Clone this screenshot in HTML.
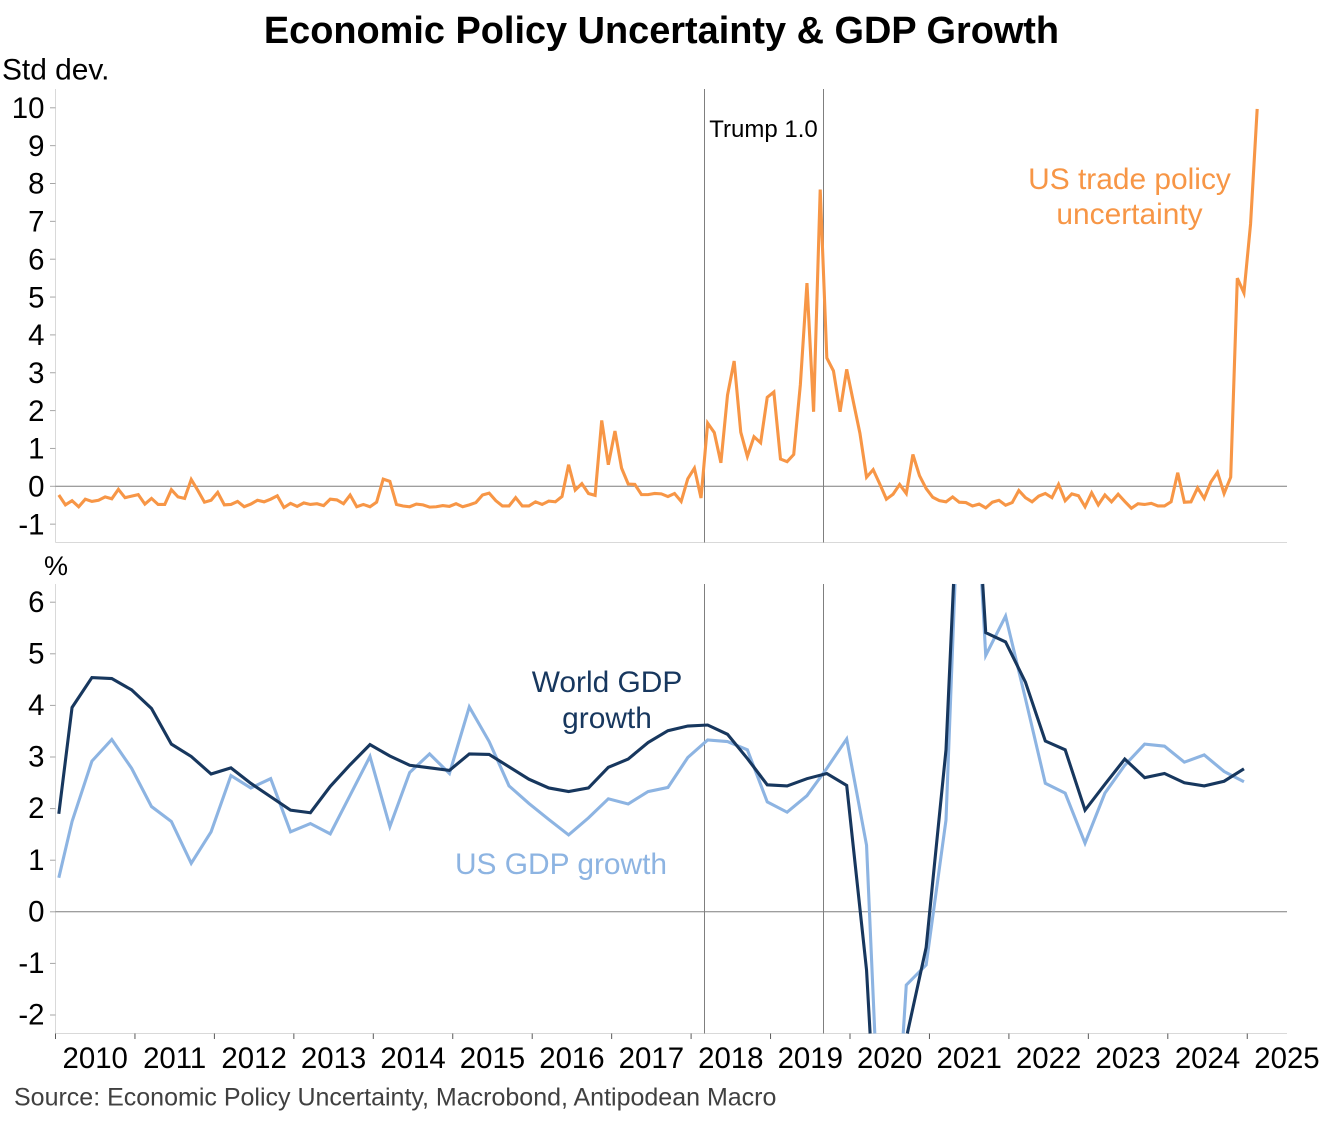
<!DOCTYPE html>
<html lang="en">
<head>
<meta charset="utf-8">
<title>Economic Policy Uncertainty &amp; GDP Growth</title>
<style>
html,body{margin:0;padding:0;background:#fff;}
body{width:1323px;height:1122px;overflow:hidden;}
svg{display:block;font-family:"Liberation Sans",Arial,sans-serif;}
</style>
</head>
<body>
<svg id="chart" xmlns="http://www.w3.org/2000/svg" width="1323" height="1122" viewBox="0 0 1323 1122">
  <text x="661.5" y="43" text-anchor="middle" font-size="37.9" font-weight="bold" fill="#000">Economic Policy Uncertainty &amp; GDP Growth</text>
  <text x="2" y="79.5" font-size="29.9" fill="#000">Std dev.</text>
  <text x="44" y="575" font-size="27" fill="#000">%</text>
  <g id="top-panel"></g>
  <g id="bottom-panel"></g>
  <text x="763.5" y="137" text-anchor="middle" font-size="24" fill="#000">Trump 1.0</text>
  <text text-anchor="middle" font-size="29.9" fill="#F79646"><tspan x="1129.5" y="189">US trade policy</tspan><tspan x="1129.5" y="224">uncertainty</tspan></text>
  <text text-anchor="middle" font-size="29.9" fill="#17375E"><tspan x="607" y="692">World GDP</tspan><tspan x="607" y="728">growth</tspan></text>
  <text x="561" y="874" text-anchor="middle" font-size="29.9" fill="#8DB4E2">US GDP growth</text>
  <text x="14" y="1105.5" font-size="25" fill="#404040">Source: Economic Policy Uncertainty, Macrobond, Antipodean Macro</text>
</svg>
<script>
// Monthly US trade policy uncertainty, standard deviations, starting Jan 2010
const tradeUncertainty = [
 -0.23,-0.49,-0.38,-0.54,-0.34,-0.40,-0.37,-0.28,-0.33,-0.08,-0.30,-0.26,
 -0.22,-0.47,-0.32,-0.48,-0.48,-0.09,-0.28,-0.32,0.18,-0.11,-0.42,-0.37,
 -0.16,-0.49,-0.48,-0.40,-0.54,-0.47,-0.37,-0.41,-0.34,-0.25,-0.56,-0.45,
 -0.53,-0.44,-0.48,-0.46,-0.51,-0.34,-0.36,-0.46,-0.23,-0.54,-0.48,-0.54,
 -0.42,0.19,0.13,-0.48,-0.52,-0.54,-0.47,-0.49,-0.55,-0.54,-0.51,-0.53,
 -0.46,-0.54,-0.49,-0.43,-0.23,-0.18,-0.38,-0.52,-0.52,-0.30,-0.52,-0.52,
 -0.41,-0.48,-0.39,-0.41,-0.27,0.57,-0.10,0.07,-0.19,-0.24,1.74,0.57,
 1.46,0.48,0.06,0.05,-0.22,-0.22,-0.19,-0.20,-0.27,-0.19,-0.40,0.20,
 0.48,-0.31,1.67,1.42,0.62,2.41,3.31,1.43,0.79,1.31,1.15,2.35,
 2.49,0.72,0.65,0.84,2.68,5.37,1.97,7.84,3.39,3.05,1.97,3.09,
 2.24,1.40,0.24,0.44,0.06,-0.34,-0.21,0.05,-0.19,0.84,0.28,-0.06,
 -0.29,-0.38,-0.41,-0.28,-0.42,-0.43,-0.52,-0.47,-0.57,-0.42,-0.37,-0.50,
 -0.43,-0.11,-0.30,-0.41,-0.26,-0.19,-0.30,0.05,-0.38,-0.20,-0.25,-0.54,
 -0.17,-0.49,-0.23,-0.41,-0.21,-0.40,-0.58,-0.46,-0.48,-0.45,-0.52,-0.52,
 -0.41,0.36,-0.42,-0.41,-0.04,-0.32,0.11,0.37,-0.19,0.24,5.50,5.11,
 6.93,9.97
];
// Month offsets from Jan 2010 for the GDP observations
const gdpMonths = [
 0,2,5,8,11,14,17,20,23,26,29,32,35,38,41,44,47,50,53,56,59,
 62,65,68,71,74,77,80,83,86,89,92,95,98,101,104,107,110,113,116,119,
 122,125,128,131,134,137,140,143,146,149,152,155,158,161,164,167,170,173,176,179
];
const usGdpGrowth = [
 0.66,1.75,2.92,3.34,2.78,2.04,1.75,0.94,1.55,2.64,2.40,2.58,1.55,1.71,1.51,2.26,3.01,1.65,2.70,3.06,2.68,
 3.97,3.30,2.44,2.10,1.79,1.49,1.82,2.19,2.09,2.33,2.41,2.99,3.33,3.30,3.14,2.13,1.93,2.25,2.78,3.35,
 1.29,-7.5,-1.42,-1.03,1.78,11.9,4.97,5.73,4.13,2.49,2.30,1.33,2.30,2.84,3.25,3.21,2.90,3.04,2.72,2.52
];
const worldGdpGrowth = [
 1.90,3.96,4.54,4.52,4.30,3.94,3.25,3.01,2.67,2.79,2.49,2.23,1.97,1.92,2.43,2.85,3.24,3.02,2.84,2.79,2.74,
 3.06,3.05,2.81,2.57,2.40,2.33,2.40,2.80,2.96,3.28,3.51,3.60,3.62,3.44,2.97,2.46,2.44,2.58,2.68,2.45,
 -1.13,-8.0,-2.45,-0.69,3.14,11.6,5.41,5.23,4.45,3.31,3.14,1.97,2.47,2.96,2.60,2.68,2.50,2.44,2.53,2.77
];
const yearLabels = ["2010","2011","2012","2013","2014","2015","2016","2017","2018","2019","2020","2021","2022","2023","2024","2025"];
const topTicks = [-1,0,1,2,3,4,5,6,7,8,9,10];
const bottomTicks = [-2,-1,0,1,2,3,4,5,6];
// Trump first-term markers, as month offsets from Jan 2010
const termMarkers = [98,116];

const SVGNS = "http://www.w3.org/2000/svg";
const LEFT = 55.5, RIGHT = 1287;
const TOP_ZERO = 486.3, TOP_UNIT = 37.85, TOP_Y0 = 89, TOP_Y1 = 542.5;
const BOT_ZERO = 911.8, BOT_UNIT = 51.6, BOT_Y0 = 584, BOT_Y1 = 1033.5;
const MONTH_W = 79.45 / 12;
const TICK_FONT = 29.4;

function xEdge(m){ return LEFT + m * MONTH_W; }
function xMid(m){ return LEFT + (m + 0.5) * MONTH_W; }
function yTop(v){ return TOP_ZERO - v * TOP_UNIT; }
function yBottom(v){ return BOT_ZERO - v * BOT_UNIT; }

function make(tag, attrs, parent){
  const el = document.createElementNS(SVGNS, tag);
  for (const k in attrs) el.setAttribute(k, attrs[k]);
  parent.appendChild(el);
  return el;
}
// Build a path, cutting each segment at the panel's vertical limits
function clippedPath(xs, ys, yMin, yMax){
  let d = "", penDown = false;
  for (let i = 0; i < xs.length - 1; i++){
    const x0 = xs[i], y0 = ys[i], x1 = xs[i+1], y1 = ys[i+1];
    let t0 = 0, t1 = 1;
    const dy = y1 - y0;
    if (dy === 0){
      if (y0 < yMin || y0 > yMax){ penDown = false; continue; }
    } else {
      const a = (yMin - y0) / dy, b = (yMax - y0) / dy;
      t0 = Math.max(0, Math.min(a, b));
      t1 = Math.min(1, Math.max(a, b));
      if (t0 > t1){ penDown = false; continue; }
    }
    const sx = x0 + t0 * (x1 - x0), sy = y0 + t0 * dy;
    const ex = x0 + t1 * (x1 - x0), ey = y0 + t1 * dy;
    if (!penDown || t0 > 0) d += "M" + sx.toFixed(2) + " " + sy.toFixed(2) + " ";
    d += "L" + ex.toFixed(2) + " " + ey.toFixed(2) + " ";
    penDown = t1 === 1;
  }
  return d.trim();
}
function crisp(x){ return Math.floor(x) + 0.5; }

const topPanel = document.getElementById("top-panel");
const bottomPanel = document.getElementById("bottom-panel");

// ---- Top panel axes
const topYAxis = make("line",{x1:LEFT,x2:LEFT,y1:TOP_Y0,y2:TOP_Y1,stroke:"#d9d9d9","stroke-width":1},topPanel);


const topXAxis = make("line",{x1:LEFT,x2:RIGHT,y1:TOP_Y1,y2:TOP_Y1,stroke:"#d9d9d9","stroke-width":1},topPanel);


topTicks.forEach(function(v){
  const t = make("line",{x1:50,x2:LEFT,y1:yTop(v),y2:yTop(v),stroke:"#a6a6a6","stroke-width":1},topPanel);
  
  
  const l = make("text",{x:44.5,y:yTop(v)+10.2,"text-anchor":"end","font-size":TICK_FONT,fill:"#000"},topPanel);
  
  
  l.textContent = String(v);
});
const topZero = make("line",{x1:LEFT,x2:RIGHT,y1:yTop(0),y2:yTop(0),stroke:"#7f7f7f","stroke-width":1},topPanel);


termMarkers.forEach(function(m){
  const x = crisp(xEdge(m));
  const line = make("line",{x1:x,x2:x,y1:TOP_Y0,y2:TOP_Y1,stroke:"#7f7f7f","stroke-width":1},topPanel);
  
  
});
const tradeLine = make("path",{
  d:clippedPath(tradeUncertainty.map(function(_,i){return xMid(i);}),tradeUncertainty.map(yTop),TOP_Y0,TOP_Y1),
  fill:"none",stroke:"#F79646","stroke-width":3.1
},topPanel);



// ---- Bottom panel axes
const botYAxis = make("line",{x1:LEFT,x2:LEFT,y1:BOT_Y0,y2:BOT_Y1,stroke:"#d9d9d9","stroke-width":1},bottomPanel);


const botXAxis = make("line",{x1:LEFT,x2:RIGHT,y1:BOT_Y1,y2:BOT_Y1,stroke:"#d9d9d9","stroke-width":1},bottomPanel);


bottomTicks.forEach(function(v){
  const t = make("line",{x1:50,x2:LEFT,y1:yBottom(v),y2:yBottom(v),stroke:"#a6a6a6","stroke-width":1},bottomPanel);
  
  
  const l = make("text",{x:44.5,y:yBottom(v)+9.6,"text-anchor":"end","font-size":TICK_FONT,fill:"#000"},bottomPanel);
  
  
  l.textContent = String(v);
});
yearLabels.forEach(function(label,i){
  const m = i * 12;
  const t = make("line",{x1:xEdge(m),x2:xEdge(m),y1:BOT_Y1,y2:BOT_Y1+5.5,stroke:"#595959","stroke-width":1},bottomPanel);
  
  
  const l = make("text",{x:xEdge(m+6),y:1068,"text-anchor":"middle","font-size":TICK_FONT,fill:"#000"},bottomPanel);
  
  
  l.textContent = label;
});
const botZero = make("line",{x1:LEFT,x2:RIGHT,y1:yBottom(0),y2:yBottom(0),stroke:"#7f7f7f","stroke-width":1},bottomPanel);


termMarkers.forEach(function(m){
  const x = crisp(xEdge(m));
  const line = make("line",{x1:x,x2:x,y1:BOT_Y0,y2:BOT_Y1,stroke:"#7f7f7f","stroke-width":1},bottomPanel);
  
  
});
const gdpX = gdpMonths.map(xMid);
const usLine = make("path",{d:clippedPath(gdpX,usGdpGrowth.map(yBottom),BOT_Y0,BOT_Y1),fill:"none",stroke:"#8DB4E2","stroke-width":3.1},bottomPanel);


const worldLine = make("path",{d:clippedPath(gdpX,worldGdpGrowth.map(yBottom),BOT_Y0,BOT_Y1),fill:"none",stroke:"#17375E","stroke-width":3.1},bottomPanel);


</script>
</body>
</html>
